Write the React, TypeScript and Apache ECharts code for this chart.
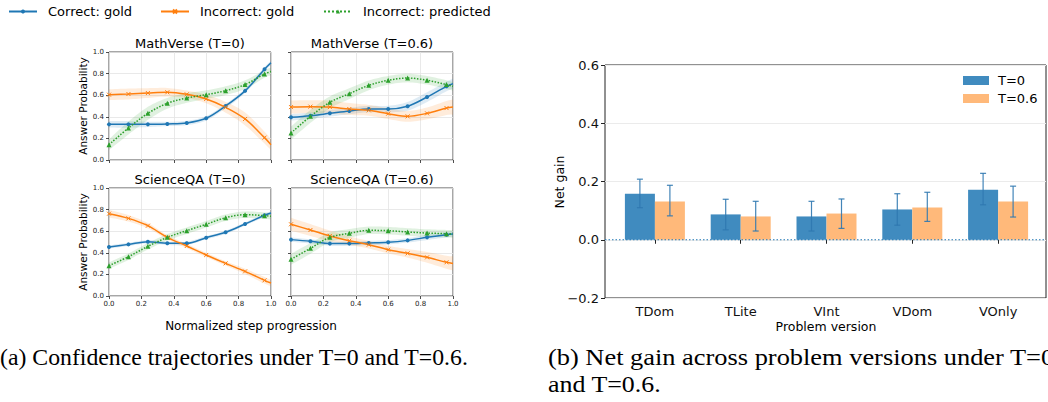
import React, { useEffect, useRef } from 'react';
import * as echarts from 'echarts';

// ---------- Data: confidence trajectories ----------
const stepX = [0, 0.12, 0.24, 0.36, 0.48, 0.6, 0.72, 0.84, 0.96, 1.0];

const seriesNames = ['Correct: gold', 'Incorrect: gold', 'Incorrect: predicted'];
const panelTitles = ['MathVerse (T=0)', 'MathVerse (T=0.6)', 'ScienceQA (T=0)', 'ScienceQA (T=0.6)'];

// MathVerse T=0
const mvT0Correct = [0.33, 0.33, 0.33, 0.334, 0.343, 0.386, 0.5, 0.64, 0.84, 0.9];
const mvT0CorrectBand = [0.03, 0.03, 0.025, 0.02, 0.02, 0.02, 0.02, 0.02, 0.02, 0.02];
const mvT0IncGold = [0.605, 0.611, 0.62, 0.627, 0.608, 0.565, 0.488, 0.38, 0.207, 0.142];
const mvT0IncGoldBand = [0.05, 0.05, 0.045, 0.04, 0.035, 0.04, 0.05, 0.06, 0.055, 0.05];
const mvT0IncPred = [0.142, 0.296, 0.432, 0.525, 0.574, 0.605, 0.642, 0.698, 0.796, 0.82];
const mvT0IncPredBand = [0.05, 0.06, 0.06, 0.05, 0.045, 0.04, 0.04, 0.04, 0.035, 0.035];

// MathVerse T=0.6
const mvT06Correct = [0.395, 0.41, 0.432, 0.454, 0.472, 0.472, 0.497, 0.583, 0.682, 0.707];
const mvT06CorrectBand = [0.03, 0.03, 0.03, 0.03, 0.03, 0.03, 0.04, 0.045, 0.045, 0.045];
const mvT06IncGold = [0.49, 0.494, 0.49, 0.472, 0.46, 0.429, 0.404, 0.432, 0.481, 0.49];
const mvT06IncGoldBand = [0.06, 0.06, 0.06, 0.055, 0.05, 0.05, 0.05, 0.055, 0.065, 0.07];
const mvT06IncPred = [0.25, 0.404, 0.534, 0.614, 0.691, 0.738, 0.759, 0.738, 0.698, 0.682];
const mvT06IncPredBand = [0.06, 0.06, 0.055, 0.05, 0.045, 0.04, 0.04, 0.04, 0.04, 0.04];

// ScienceQA T=0
const sqT0Correct = [0.454, 0.478, 0.503, 0.488, 0.488, 0.54, 0.59, 0.667, 0.747, 0.768];
const sqT0CorrectBand = [0.015, 0.015, 0.015, 0.015, 0.015, 0.015, 0.015, 0.015, 0.015, 0.015];
const sqT0IncGold = [0.762, 0.719, 0.651, 0.543, 0.463, 0.38, 0.302, 0.228, 0.145, 0.12];
const sqT0IncGoldBand = [0.035, 0.03, 0.025, 0.02, 0.02, 0.02, 0.02, 0.025, 0.03, 0.03];
const sqT0IncPred = [0.281, 0.364, 0.46, 0.543, 0.605, 0.664, 0.725, 0.753, 0.744, 0.738];
const sqT0IncPredBand = [0.03, 0.03, 0.03, 0.03, 0.03, 0.03, 0.03, 0.03, 0.03, 0.03];

// ScienceQA T=0.6
const sqT06Correct = [0.522, 0.506, 0.485, 0.485, 0.491, 0.497, 0.515, 0.543, 0.568, 0.574];
const sqT06CorrectBand = [0.02, 0.02, 0.02, 0.02, 0.02, 0.02, 0.02, 0.025, 0.025, 0.025];
const sqT06IncGold = [0.664, 0.611, 0.556, 0.512, 0.475, 0.429, 0.395, 0.358, 0.312, 0.302];
const sqT06IncGoldBand = [0.06, 0.055, 0.05, 0.04, 0.035, 0.035, 0.04, 0.05, 0.06, 0.065];
const sqT06IncPred = [0.34, 0.441, 0.543, 0.58, 0.608, 0.605, 0.593, 0.583, 0.577, 0.574];
const sqT06IncPredBand = [0.05, 0.05, 0.045, 0.04, 0.035, 0.035, 0.035, 0.035, 0.035, 0.035];

// ---------- Data: net gain ----------
const versions = ['TDom', 'TLite', 'VInt', 'VDom', 'VOnly'];
const t0Gain = [0.158, 0.087, 0.08, 0.104, 0.172];
const t0Low = [0.11, 0.034, 0.03, 0.05, 0.12];
const t0High = [0.208, 0.139, 0.132, 0.158, 0.228];
const t06Gain = [0.131, 0.08, 0.09, 0.111, 0.131];
const t06Low = [0.082, 0.03, 0.039, 0.063, 0.078];
const t06High = [0.187, 0.132, 0.14, 0.163, 0.184];

const BLUE = '#1f77b4';
const ORANGE = '#ff7f0e';
const GREEN = '#2ca02c';
const FONT = 'DejaVu Sans';

const panels = [
  { left: 109, top: 52, showX: false, showY: true, sets: [[mvT0Correct, mvT0CorrectBand], [mvT0IncGold, mvT0IncGoldBand], [mvT0IncPred, mvT0IncPredBand]] },
  { left: 291, top: 52, showX: false, showY: false, sets: [[mvT06Correct, mvT06CorrectBand], [mvT06IncGold, mvT06IncGoldBand], [mvT06IncPred, mvT06IncPredBand]] },
  { left: 109, top: 188, showX: true, showY: true, sets: [[sqT0Correct, sqT0CorrectBand], [sqT0IncGold, sqT0IncGoldBand], [sqT0IncPred, sqT0IncPredBand]] },
  { left: 291, top: 188, showX: true, showY: false, sets: [[sqT06Correct, sqT06CorrectBand], [sqT06IncGold, sqT06IncGoldBand], [sqT06IncPred, sqT06IncPredBand]] },
];

const colors = [BLUE, ORANGE, GREEN];
const symbols = ['circle', 'path://M0,0L10,10M10,0L0,10', 'triangle'];
const symbolSizes = [4, 4, 5];
const lineTypes = ['solid', 'solid', 'dotted'];

// Catmull-Rom smoothing of pixel points (rendering only)
function smoothPts(pts: number[][], seg = 8): number[][] {
  const out: number[][] = [];
  const n = pts.length;
  for (let i = 0; i < n - 1; i++) {
    const p0 = pts[Math.max(i - 1, 0)];
    const p1 = pts[i];
    const p2 = pts[i + 1];
    const p3 = pts[Math.min(i + 2, n - 1)];
    for (let s = 0; s < seg; s++) {
      const t = s / seg;
      const t2 = t * t;
      const t3 = t2 * t;
      const f = (a: number, b: number, c: number, d: number) =>
        0.5 * (2 * b + (-a + c) * t + (2 * a - 5 * b + 4 * c - d) * t2 + (-a + 3 * b - 3 * c + d) * t3);
      out.push([f(p0[0], p1[0], p2[0], p3[0]), f(p0[1], p1[1], p2[1], p3[1])]);
    }
  }
  out.push(pts[n - 1]);
  return out;
}

function buildOption() {
  const grids: any[] = [];
  const xAxes: any[] = [];
  const yAxes: any[] = [];
  const series: any[] = [];
  const graphics: any[] = [];

  panels.forEach((p, pi) => {
    grids.push({ left: p.left, top: p.top, width: 162, height: 108, show: true, borderColor: '#222', borderWidth: 0.8, backgroundColor: 'transparent' });
    xAxes.push({
      type: 'value', gridIndex: pi, min: 0, max: 1, interval: 0.2,
      axisLine: { show: false },
      axisTick: { show: true, length: 3, lineStyle: { color: '#222', width: 0.8 } },
      axisLabel: { show: p.showX, fontSize: 7, color: '#222', fontFamily: FONT, margin: 4, formatter: (v: number) => v.toFixed(1) },
      splitLine: { show: true, lineStyle: { color: '#e3e3e3', width: 0.8 } },
    });
    yAxes.push({
      type: 'value', gridIndex: pi, min: 0, max: 1, interval: 0.2,
      axisLine: { show: false },
      axisTick: { show: true, length: 3, lineStyle: { color: '#222', width: 0.8 } },
      axisLabel: { show: p.showY, fontSize: 7, color: '#222', fontFamily: FONT, margin: 5, formatter: (v: number) => v.toFixed(1) },
      splitLine: { show: true, lineStyle: { color: '#e3e3e3', width: 0.8 } },
    });
    p.sets.forEach(([vals, band], k) => {
      series.push({
        type: 'custom', xAxisIndex: pi, yAxisIndex: pi, silent: true, z: 1,
        data: stepX.map((x, i) => [x, vals[i] - band[i], vals[i] + band[i]]),
        renderItem: (params: any, api: any) => {
          if (params.dataIndex !== 0) return null;
          const upper = stepX.map((x, i) => api.coord([x, vals[i] + band[i]]));
          const lower = stepX.map((x, i) => api.coord([x, vals[i] - band[i]]));
          const poly = smoothPts(upper).concat(smoothPts(lower).reverse());
          return { type: 'polygon', shape: { points: poly }, style: { fill: colors[k], opacity: 0.15 } };
        },
      });
    });
    p.sets.forEach(([vals], k) => {
      series.push({
        type: 'line', name: seriesNames[k], xAxisIndex: pi, yAxisIndex: pi, z: 3,
        data: stepX.map((x, i) => (i === stepX.length - 1 ? { value: [x, vals[i]], symbol: 'none' } : [x, vals[i]])),
        smooth: 0.33,
        symbol: symbols[k], symbolSize: symbolSizes[k], showAllSymbol: true,
        lineStyle: { color: colors[k], width: 1.5, type: lineTypes[k] },
        itemStyle: { color: colors[k], borderColor: colors[k], borderWidth: k === 1 ? 1 : 0 },
      });
    });
    graphics.push({
      type: 'text', x: p.left + 81, y: p.top - 9,
      style: { text: panelTitles[pi], font: `13px "${FONT}"`, fill: '#000', align: 'center', verticalAlign: 'middle' },
    });
  });

  // Right chart: frame grid (4) and bars grid (5)
  grids.push({ left: 605, top: 65, width: 441, height: 233, show: true, borderColor: '#222', borderWidth: 1, backgroundColor: 'transparent' });
  grids.push({ left: 612, top: 65, width: 429, height: 233 });
  xAxes.push({ type: 'value', gridIndex: 4, min: 0, max: 1, show: false });
  yAxes.push({
    type: 'value', gridIndex: 4, min: -0.2, max: 0.6, interval: 0.2,
    axisLine: { show: false },
    axisTick: { show: true, length: 4, lineStyle: { color: '#222' } },
    axisLabel: {
      fontSize: 13, color: '#111', fontFamily: FONT, margin: 6,
      formatter: (v: number) => (v < -1e-9 ? '\u2212' + Math.abs(v).toFixed(1) : Math.abs(v).toFixed(1)),
    },
    splitLine: { show: true, lineStyle: { color: '#ebebeb', width: 1 } },
  });
  xAxes.push({
    type: 'category', gridIndex: 5, data: versions, boundaryGap: true,
    axisLine: { show: false },
    axisTick: { show: true, alignWithLabel: true, length: 4, lineStyle: { color: '#222' } },
    axisLabel: { fontSize: 13, color: '#111', fontFamily: FONT, margin: 7 },
  });
  yAxes.push({ type: 'value', gridIndex: 5, min: -0.2, max: 0.6, show: false, splitLine: { show: false } });

  series.push({
    type: 'line', xAxisIndex: 4, yAxisIndex: 4, data: [[0, 0], [1, 0]], symbol: 'none', silent: true, z: 4,
    lineStyle: { color: BLUE, width: 1, type: [1.5, 2] },
  });
  series.push({
    type: 'bar', name: 'T=0', xAxisIndex: 5, yAxisIndex: 5, data: t0Gain, barWidth: 30, barGap: '0%',
    itemStyle: { color: '#408bbf' }, z: 2,
  });
  series.push({
    type: 'bar', name: 'T=0.6', xAxisIndex: 5, yAxisIndex: 5, data: t06Gain, barWidth: 30, barGap: '0%',
    itemStyle: { color: '#ffb97a' }, z: 2,
  });
  const errSeries = (low: number[], high: number[], offset: number) => ({
    type: 'custom', xAxisIndex: 5, yAxisIndex: 5, z: 5, silent: true,
    data: versions.map((_, i) => [i, low[i], high[i]]),
    renderItem: (params: any, api: any) => {
      const c = api.value(0);
      const pLo = api.coord([c, api.value(1)]);
      const pHi = api.coord([c, api.value(2)]);
      const x = pLo[0] + offset;
      const style = { stroke: '#2f78b0', lineWidth: 1.2, opacity: 0.9 };
      return {
        type: 'group',
        children: [
          { type: 'line', shape: { x1: x, y1: pLo[1], x2: x, y2: pHi[1] }, style },
          { type: 'line', shape: { x1: x - 3, y1: pLo[1], x2: x + 3, y2: pLo[1] }, style },
          { type: 'line', shape: { x1: x - 3, y1: pHi[1], x2: x + 3, y2: pHi[1] }, style },
        ],
      };
    },
  });
  series.push(errSeries(t0Low, t0High, -15));
  series.push(errSeries(t06Low, t06High, 15));

  // Axis titles and captions
  const axisText = (text: string, x: number, y: number, size: number, rot = 0) => ({
    type: 'text', x, y, rotation: rot,
    style: { text, font: `${size}px "${FONT}"`, fill: '#000', align: 'center', verticalAlign: 'middle' },
  });
  graphics.push(axisText('Answer Probability', 83, 106, 10.5, Math.PI / 2));
  graphics.push(axisText('Answer Probability', 83, 242, 10.5, Math.PI / 2));
  graphics.push(axisText('Normalized step progression', 251, 326, 12));
  graphics.push(axisText('Net gain', 559, 182, 12.5, Math.PI / 2));
  graphics.push(axisText('Problem version', 826, 326, 12.5));
  const capFont = '24px "Liberation Serif"';
  const caption = (text: string, x: number, y: number, sx: number) => ({
    type: 'text', x, y, scaleX: sx,
    style: { text, font: capFont, fill: '#000', verticalAlign: 'middle' },
  });
  graphics.push(caption('(a) Confidence trajectories under T=0 and T=0.6.', 0, 357, 0.99));
  graphics.push(caption('(b) Net gain across problem versions under T=0', 548, 357, 1.1));
  graphics.push(caption('and T=0.6.', 548, 384, 1.08));

  const lineLegend = (name: string, left: number) => ({
    left, top: 5, padding: 0, data: [name], itemWidth: 28, itemHeight: 5,
    textStyle: { fontSize: 13, fontFamily: FONT, color: '#000', padding: [0, 0, 0, 6] },
    selectedMode: false,
  });
  const barLegend = (name: string, top: number) => ({
    left: 963, top, padding: 0, data: [name], itemWidth: 26, itemHeight: 9, icon: 'rect',
    textStyle: { fontSize: 13, fontFamily: FONT, color: '#000', padding: [0, 0, 0, 4] },
    selectedMode: false,
  });

  return {
    animation: false,
    backgroundColor: '#fff',
    grid: grids,
    xAxis: xAxes,
    yAxis: yAxes,
    legend: [
      lineLegend(seriesNames[0], 8),
      lineLegend(seriesNames[1], 160),
      lineLegend(seriesNames[2], 323),
      barLegend('T=0', 74),
      barLegend('T=0.6', 92),
    ],
    series,
    graphic: graphics,
  };
}

export default function App() {
  const ref = useRef<HTMLDivElement>(null);
  useEffect(() => {
    const chart = echarts.init(ref.current!, null, { renderer: 'svg' });
    chart.setOption(buildOption() as any);
    return () => chart.dispose();
  }, []);
  return (
    <div
      ref={ref}
      style={{ position: 'absolute', left: 0, top: 0, width: 1048, height: 402, background: '#fff' }}
    />
  );
}
